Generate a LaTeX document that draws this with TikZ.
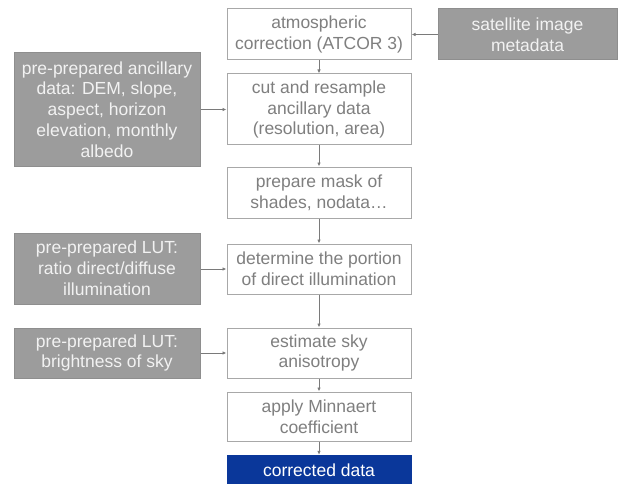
\documentclass[tikz,border=0pt]{standalone}
\usepackage{fontspec}
\setmainfont{Liberation Sans}
\usetikzlibrary{arrows.meta}
\definecolor{stepline}{HTML}{A8A8A8}
\definecolor{steptext}{HTML}{7F7F7F}
\definecolor{inputfill}{HTML}{9C9C9C}
\definecolor{inputline}{HTML}{8E8E8E}
\definecolor{inputtext}{HTML}{F2F2F2}
\definecolor{resultfill}{HTML}{0A379A}
\definecolor{flowline}{HTML}{7A7A7A}
\tikzset{
  base/.style={rectangle, inner sep=0pt, align=center, font=\fontsize{17.5}{20.8}\selectfont},
  stepbox/.style={base, draw=stepline, line width=1pt, fill=white, text=steptext, minimum width=184pt},
  inputbox/.style={base, draw=inputline, line width=1pt, fill=inputfill, text=inputtext, minimum width=186pt},
  resultbox/.style={base, fill=resultfill, text=white, minimum width=185pt},
  flow/.style={draw=flowline, line width=0.9pt, -{Latex[length=4pt,width=3.5pt]}}
}
\begin{document}
\begin{tikzpicture}[x=1pt, y=-1pt]
  \useasboundingbox (0,0) rectangle (621,484);
  % main processing chain
  \node[stepbox, minimum height=51pt] (atm) at (319,34.5) {atmospheric\\correction (ATCOR 3)};
  \node[stepbox, minimum height=71pt] (cut) at (319,109.5) {cut and resample\\ancillary data\\(resolution, area)};
  \node[stepbox, minimum height=51pt] (mask) at (319,192.5) {prepare mask of\\shades, nodata\dots};
  \node[stepbox, minimum height=50pt] (direct) at (319,269) {determine the portion\\of direct illumination};
  \node[stepbox, minimum height=50pt] (sky) at (319,353) {estimate sky\\anisotropy};
  \node[stepbox, minimum height=49pt] (minn) at (319,416.5) {apply Minnaert\\coefficient};
  \node[resultbox, minimum height=31pt] (out) at (319,470.5) {corrected data};
  % input data
  \node[inputbox, minimum width=179pt, minimum height=51pt] (sat) at (527.5,34.5) {satellite image\\metadata};
  \node[inputbox, minimum height=113pt] (anc) at (107,109.5) {pre-prepared ancillary\\data: DEM, slope,\\aspect, horizon\\elevation, monthly\\albedo};
  \node[inputbox, minimum height=71pt] (lut1) at (107,268.5) {pre-prepared LUT:\\ratio direct/diffuse\\illumination};
  \node[inputbox, minimum height=50pt] (lut2) at (107,353) {pre-prepared LUT:\\brightness of sky};
  % connectors
  \draw[flow] (atm) -- (cut);
  \draw[flow] (cut) -- (mask);
  \draw[flow] (mask) -- (direct);
  \draw[flow] (direct) -- (sky);
  \draw[flow] (sky) -- (minn);
  \draw[flow] (minn) -- (out);
  \draw[flow] (sat) -- (atm);
  \draw[flow] (anc) -- (cut);
  \draw[flow] (lut1.east |- direct.west) -- (direct.west);
  \draw[flow] (lut2) -- (sky);
\end{tikzpicture}
\end{document}
